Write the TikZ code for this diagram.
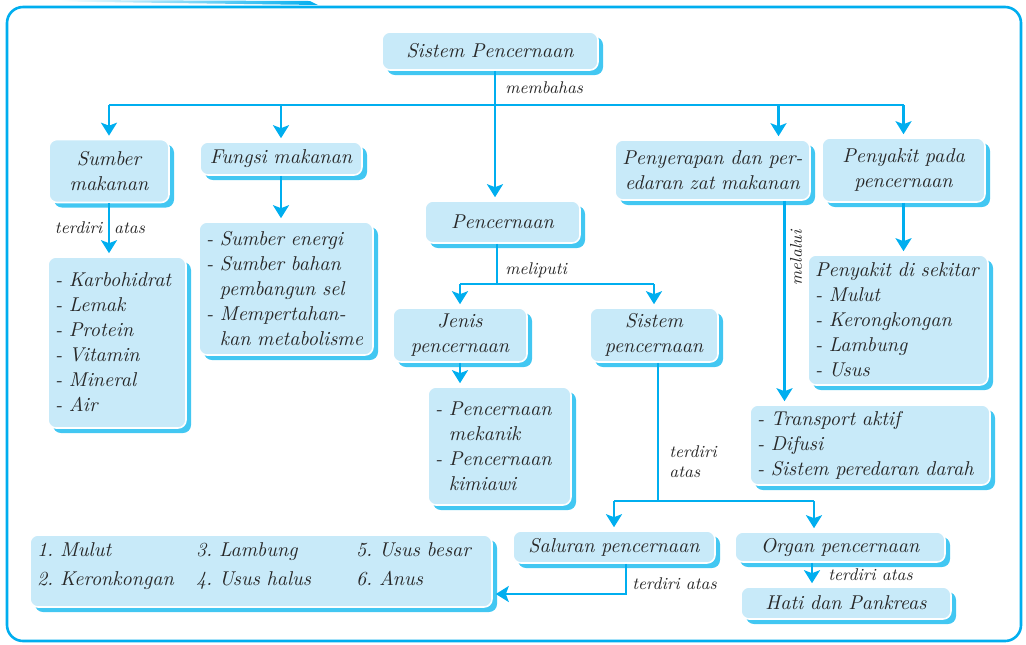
\documentclass[tikz,border=0pt]{standalone}
\usepackage{tikz}
\usetikzlibrary{arrows.meta,shadows}
\definecolor{linecol}{RGB}{0,174,239}
\definecolor{boxcol}{RGB}{200,234,249}
\definecolor{shadecol}{RGB}{66,199,242}
\definecolor{inkcol}{RGB}{40,40,40}
\newcommand\ind{\phantom{-\ }}
\frenchspacing

\begin{document}
\begin{tikzpicture}[x=0.5pt,y=-0.5pt]
        \tikzstyle{every node}=[text=inkcol,font=\fontsize{10}{12.5}\selectfont\itshape]
        \tikzstyle{box}=[draw=white,line width=0.8pt,fill=boxcol,rounded corners=4pt,inner xsep=3.5pt,inner ysep=2pt,
            drop shadow={shadow xshift=2.5pt,shadow yshift=-2.5pt,fill=shadecol,opacity=1}]
        \tikzstyle{link}=[draw=linecol,line width=1.2pt]
        \tikzstyle{arr}=[link,-{Stealth[width=8pt,length=6.5pt,inset=1.5pt]},shorten >=1.5pt]
        \tikzstyle{tag}=[font=\fontsize{8.5}{10}\selectfont\itshape,inner sep=1pt]

            \useasboundingbox (0,0) rectangle (1026,644);
            \draw[linecol,line width=1.3pt,rounded corners=8pt] (7,7) rectangle (1021,641);
            \shade[left color=white,right color=linecol] (60,0) -- (310,1) -- (318,5) -- (60,1.5) -- cycle;

            \node[box,text width=101pt,align=center,minimum height=19pt] (top) at (490,51) {Sistem Pencernaan};
            \node[box,text width=53pt,align=center,minimum height=31.5pt] (sumber) at (109,171) {Sumber\\makanan};
            \node[box,text width=74pt,align=center,minimum height=16.5pt] (fungsi) at (281,158.5) {Fungsi makanan};
            \node[box,text width=90.5pt,align=center,minimum height=30pt] (serap) at (712.5,170) {Penyerapan dan per-\\edaran zat makanan};
            \node[box,text width=74.5pt,align=center,minimum height=32pt] (penyakit) at (903.5,170) {Penyakit pada\\pencernaan};
            \node[box,text width=70.5pt,align=center,minimum height=21pt] (cerna) at (502.5,222) {Pencernaan};
            \node[box,text width=62pt,align=left,minimum height=85.5pt] (gizi) at (117,342.5) {- Karbohidrat\\- Lemak\\- Protein\\- Vitamin\\- Mineral\\- Air};
            \node[box,text width=80pt,align=left,minimum height=66.5pt] (guna) at (286,288.5) {- Sumber energi\\- Sumber bahan\\\ind pembangun sel\\- Mempertahan-\\\ind kan~metabolisme};
            \node[box,text width=60pt,align=center,minimum height=27pt] (jenis) at (460,335) {Jenis\\pencernaan};
            \node[box,text width=57pt,align=center,minimum height=27pt] (sistem) at (654,335) {Sistem\\pencernaan};
            \node[box,text width=64.5pt,align=left,minimum height=59pt] (jenislist) at (499.5,446) {- Pencernaan\\\ind mekanik\\- Pencernaan\\\ind kimiawi};
            \node[box,text width=83pt,align=left,minimum height=65pt] (sekitar) at (898,320) {Penyakit di sekitar\\- Mulut\\- Kerongkongan\\- Lambung\\- Usus};
            \node[box,text width=113pt,align=left,minimum height=40pt] (serapan) at (870,445) {- Transport aktif\\- Difusi\\- Sistem peredaran darah};
            \node[box,text width=94pt,align=center,minimum height=16pt] (saluran) at (614,547) {Saluran pencernaan};
            \node[box,text width=98pt,align=center,minimum height=15pt] (organ) at (840,547) {Organ pencernaan};
            \node[box,text width=98pt,align=center,minimum height=16pt] (hati) at (846,603) {Hati dan Pankreas};
            \node[box,text width=224pt,align=left,minimum height=34pt] (urutan) at (261,571) {\begin{tabular}{@{}p{79.5pt}@{}p{80pt}@{}l@{}}
                1. Mulut & 3. Lambung & 5. Usus besar\\[2pt]
                2. Keronkongan & 4. Usus halus & 6. Anus\\[5pt]
                \end{tabular}};

            \coordinate (hub) at (495,105);
            \coordinate (serapin) at ([xshift=33pt]serap.north);
            \draw[link] (top.south -| hub) -- (hub);
            \draw[link] (sumber.north |- hub) -- (penyakit.north |- hub);
            \draw[arr] (sumber.north |- hub) -- (sumber.north);
            \draw[arr] (fungsi.north |- hub) -- (fungsi.north);
            \draw[arr] (hub) -- (hub |- cerna.north);
            \draw[arr] (serapin |- hub) -- (serapin);
            \draw[arr] (penyakit.north |- hub) -- (penyakit.north);
            \node[tag,anchor=west] (bahas) at (503,88) {membahas};

            \draw[arr] (sumber.south) -- (sumber.south |- gizi.north);
            \node[tag] (terdiri1) at (100,228) {terdiri\hspace{6pt}atas};
            \draw[arr] (fungsi.south) -- (fungsi.south |- guna.north);

            \coordinate (split) at (497,284);
            \draw[link] (cerna.south -| split) -- (split);
            \draw[link] (jenis.north |- split) -- (sistem.north |- split);
            \draw[arr] (jenis.north |- split) -- (jenis.north);
            \draw[arr] (sistem.north |- split) -- (sistem.north);
            \node[tag,anchor=west] (liputi) at (503,270) {meliputi};
            \draw[arr] (jenis.south) -- (jenis.south |- jenislist.north);

            \coordinate (lalu) at ([xshift=36pt]serap.south);
            \draw[arr] (lalu) -- (lalu |- serapan.north);
            \node[tag,rotate=90] (melalui) at (796,258) {melalui};
            \draw[arr] (penyakit.south) -- (penyakit.south |- sekitar.north);

            \coordinate (pisah) at (658,501);
            \coordinate (organin) at ([xshift=-13pt]organ.north);
            \draw[link] (sistem.south -| pisah) -- (pisah);
            \draw[link] (saluran.north |- pisah) -- (organin |- pisah);
            \draw[arr] (saluran.north |- pisah) -- (saluran.north);
            \draw[arr] (organin |- pisah) -- (organin);
            \node[tag,align=left,anchor=west] (atas1) at (667,462) {terdiri\\atas};

            \coordinate (hatiin) at ([xshift=-17pt]hati.north);
            \draw[arr] (hatiin |- organ.south) -- (hatiin);
            \node[tag,anchor=west] (atas2) at (826,575) {terdiri atas};

            \coordinate (belok) at (626,594);
            \draw[arr] (saluran.south -| belok) -- (belok) -- (urutan.east |- belok);
            \node[tag,anchor=west] (atas3) at (630,584) {terdiri atas};
\end{tikzpicture}
\end{document}
